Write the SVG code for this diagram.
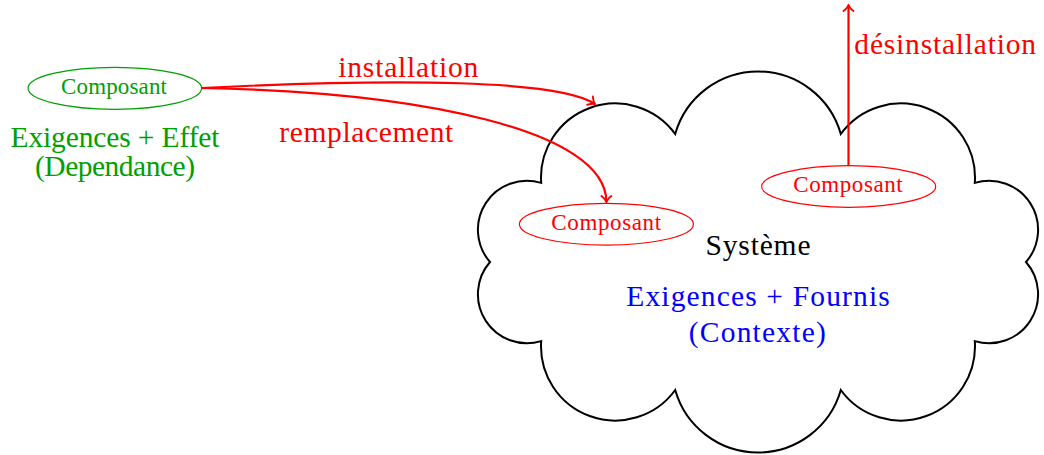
<svg xmlns="http://www.w3.org/2000/svg" width="1044" height="455" viewBox="0 0 1044 455">
<style>
text{font-family:"Liberation Serif","Times New Roman",serif;text-anchor:middle}
.big{font-size:29.5px}
.small{font-size:23px}
.red{fill:#ff0000}
.green{fill:#00a000}
.blue{fill:#0000ff}
.blk{fill:#000}
.ell{fill:none;stroke-width:1.2}
.conn{fill:none;stroke:#ff0000;stroke-width:2.2;marker-end:url(#arr)}
</style>
<defs>
<marker id="arr" markerUnits="userSpaceOnUse" viewBox="-8 -7 10 14" markerWidth="10" markerHeight="14" refX="0" refY="0" orient="auto" overflow="visible">
<path d="M-6,-5 C-3.5,-2 -1,-0.3 0,0 C-1,0.3 -3.5,2 -6,5" fill="none" stroke="#ff0000" stroke-width="1.9" stroke-linecap="round" stroke-linejoin="round"/>
</marker>
</defs>
<g id="systeme">
<path d="M1026,262 A49,49 0 0 1 974.8,341.1 A74.2,74.2 0 0 1 840.8,390 A86.1,86.1 0 0 1 675.2,390 A74.2,74.2 0 0 1 541.2,341.1 A49,49 0 0 1 490,262 A49,49 0 0 1 541.2,182.9 A74.2,74.2 0 0 1 675.2,134 A86.1,86.1 0 0 1 840.8,134 A74.2,74.2 0 0 1 974.8,182.9 A49,49 0 0 1 1026,262 Z" fill="#fff" stroke="#000" stroke-width="2" stroke-linejoin="miter"/>
<text class="big blk" x="758" y="254.8" textLength="105" lengthAdjust="spacing">Système</text>
<text class="big blue" x="758" y="306.4" textLength="263.5" lengthAdjust="spacing">Exigences + Fournis</text>
<text class="big blue" x="757.3" y="342.4" textLength="137" lengthAdjust="spacing">(Contexte)</text>
</g>
<g id="composant-externe">
<ellipse class="ell" cx="114.8" cy="88.3" rx="86.8" ry="21" stroke="#00a000"/>
<text class="small green" x="114" y="94" textLength="106" lengthAdjust="spacing">Composant</text>
<text class="big green" x="115" y="147.3" textLength="209" lengthAdjust="spacing">Exigences + Effet</text>
<text class="big green" x="115" y="176" textLength="160" lengthAdjust="spacing">(Dependance)</text>
</g>
<g id="composant-gauche">
<ellipse class="ell" cx="606.4" cy="224.2" rx="87" ry="20.9" stroke="#ff0000"/>
<text class="small red" x="606.2" y="229.8" textLength="109.7" lengthAdjust="spacing">Composant</text>
</g>
<g id="composant-droit">
<ellipse class="ell" cx="848.7" cy="186.5" rx="87" ry="20.8" stroke="#ff0000"/>
<text class="small red" x="848" y="191.7" textLength="109.4" lengthAdjust="spacing">Composant</text>
</g>
<g id="connecteurs">
<path class="conn" d="M201.5,88 C400,78 560,80 595,104"/>
<path class="conn" d="M201.5,88 C420,92 606.4,130 606.4,202"/>
<path class="conn" d="M848.5,165.7 L848.5,5"/>
<text class="big red" x="408.3" y="77.3" textLength="140" lengthAdjust="spacing">installation</text>
<text class="big red" x="366.3" y="141.7" textLength="174" lengthAdjust="spacing">remplacement</text>
<text class="big red" x="945.2" y="54" textLength="181.7" lengthAdjust="spacing">désinstallation</text>
</g>
</svg>
